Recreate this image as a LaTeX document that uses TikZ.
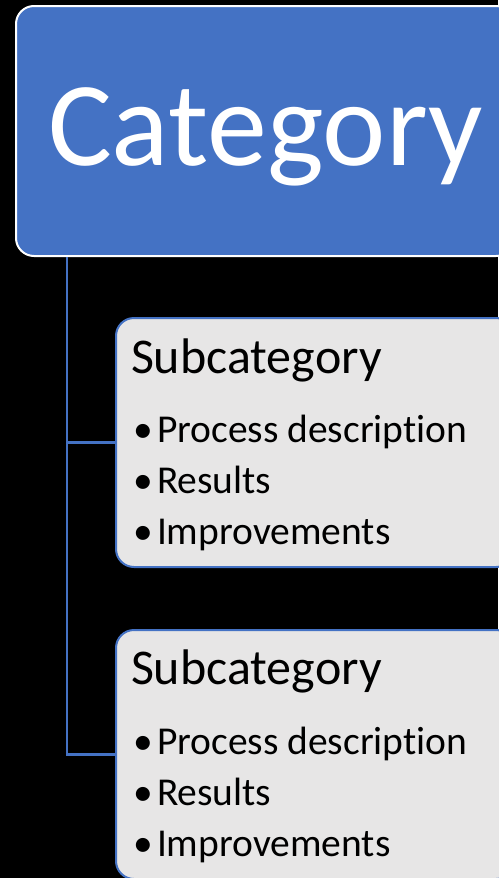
\documentclass[tikz,border=0pt]{standalone}
\usepackage{fontspec}
\setmainfont{Carlito}[Ligatures=NoCommon]
\definecolor{accent}{HTML}{4472C4}
\definecolor{paper}{HTML}{E7E6E6}
\begin{document}
\begin{tikzpicture}[x=1pt,y=-1pt,
  catbox/.style={rectangle, rounded corners=18pt, fill=accent, draw=white, line width=2pt, inner sep=0pt},
  subbox/.style={rectangle, rounded corners=18pt, fill=paper, draw=accent, line width=2pt, inner sep=0pt,
    minimum width=398pt, minimum height=249pt},
  conn/.style={draw=accent, line width=2.2pt},
  lbl/.style={anchor=base west, inner sep=0pt, outer sep=0pt},
  head/.style={lbl, font=\fontsize{50}{60}\selectfont, text=black},
  item/.style={lbl, font=\fontsize{39.5}{47}\selectfont, text=black}]
  % background and page frame
  \fill[black] (0,0) rectangle (498,878);
  \useasboundingbox (0,0) rectangle (498,878);

  % top-level category box
  \node[catbox, minimum width=498pt, minimum height=250pt] (cat) at (265,131) {};
  \node[lbl, font=\fontsize{120}{130}\selectfont, text=white] (cattext) at (48,165) {Category};

  % subcategory boxes
  \node[subbox] (sub1) at (315,442.5) {};
  \node[subbox] (sub2) at (315,754.5) {};

  % connectors from the category to each subcategory
  \coordinate (trunk) at (67,0);
  \draw[conn] (cat.south -| trunk) |- (sub2.west);
  \draw[conn] (trunk |- sub1.west) -- (sub1.west);

  % texts of the first subcategory
  \node[head] (s1h) at (131,373) {Subcategory};
  \node[item] (s1b1) at (133,442) {•};
  \node[item] (s1i1) at (157,442) {Process description};
  \node[item] (s1b2) at (133,493) {•};
  \node[item] (s1i2) at (157,493) {Results};
  \node[item] (s1b3) at (133,544) {•};
  \node[item] (s1i3) at (157,544) {Improvements};

  % texts of the second subcategory
  \node[head] (s2h) at (131,684) {Subcategory};
  \node[item] (s2b1) at (133,754) {•};
  \node[item] (s2i1) at (157,754) {Process description};
  \node[item] (s2b2) at (133,805) {•};
  \node[item] (s2i2) at (157,805) {Results};
  \node[item] (s2b3) at (133,856) {•};
  \node[item] (s2i3) at (157,856) {Improvements};
\end{tikzpicture}
\end{document}
